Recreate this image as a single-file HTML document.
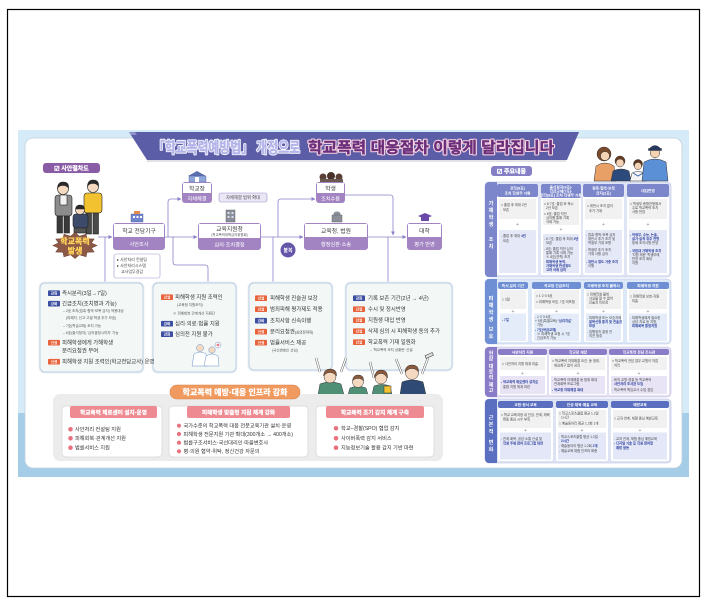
<!DOCTYPE html>
<html><head><meta charset="utf-8">
<style>
html,body{margin:0;padding:0;background:#fff;}
svg{display:block;}
text{font-family:"Liberation Sans","Noto Sans CJK KR",sans-serif;}
.c{stroke:#8b80c9;stroke-width:0.8;fill:none;}
.nt{font-size:5.8px;fill:#333;text-anchor:middle;}
.nb{font-size:5.2px;fill:#fff;text-anchor:middle;}
.bt{font-size:5.4px;fill:#333;}
.sm{font-size:3.5px;fill:#555;}
.tg{font-size:3.6px;fill:#fff;text-anchor:middle;font-weight:bold;}
.ci{font-size:5.2px;fill:#333;}
.hd{font-size:3.7px;fill:#fff;text-anchor:middle;font-weight:bold;}
.rt{font-size:3.3px;fill:#444;}
.bl{fill:#2c3f9e;font-weight:bold;}
.vt{font-size:5.2px;fill:#fff;text-anchor:middle;font-weight:bold;}
.pl{font-size:5px;fill:#888;text-anchor:middle;}
</style></head><body>
<svg width="708" height="609" viewBox="0 0 708 609" xmlns="http://www.w3.org/2000/svg">
<defs>
<marker id="ar" markerWidth="4" markerHeight="4" refX="3.6" refY="2" orient="auto" markerUnits="userSpaceOnUse">
<path d="M0,0 L4,2 L0,4 z" fill="#8b80c9"/>
</marker>
</defs>
<rect x="0" y="0" width="708" height="609" fill="#fff"/>
<rect x="7.5" y="9.5" width="692" height="587" fill="none" stroke="#000" stroke-width="1.2"/>

<!-- background -->
<rect x="18" y="130" width="671" height="347" fill="#d5ebf7"/>
<rect x="18" y="413" width="671" height="64" fill="#a6cde8"/>
<rect x="25" y="138" width="657" height="330" rx="8" fill="#fff" stroke="#c5d0dc" stroke-width="0.8"/>

<!-- title banner -->
<line x1="147" y1="161" x2="566" y2="161" stroke="#d8d8de" stroke-width="1.5"/>
<polygon points="129,132 579,132 567,160 147,160" fill="#5b5ea7"/>
<polygon points="129,132 135,132 137,135 131,135" fill="#8e92c8"/>
<text x="153" y="152.5" font-size="15" font-weight="bold" fill="#fff" stroke="#fff" stroke-width="2.2" stroke-linejoin="round" textLength="147" lengthAdjust="spacingAndGlyphs">「학교폭력예방법」 개정으로</text>
<text x="153" y="152.5" font-size="15" font-weight="bold" fill="#b4b4ea" stroke="#b4b4ea" stroke-width="0.5" textLength="147" lengthAdjust="spacingAndGlyphs">「학교폭력예방법」 개정으로</text>
<text x="308" y="152.5" font-size="15" font-weight="bold" fill="#f7d3e3" stroke="#f7d3e3" stroke-width="2.6" stroke-linejoin="round" textLength="246" lengthAdjust="spacingAndGlyphs">학교폭력 대응절차 이렇게 달라집니다</text>
<text x="308" y="152.5" font-size="15" font-weight="bold" fill="#6a2f7a" stroke="#6a2f7a" stroke-width="0.4" textLength="246" lengthAdjust="spacingAndGlyphs">학교폭력 대응절차 이렇게 달라집니다</text>

<!-- pills -->
<rect x="43" y="163" width="57" height="10" rx="3" fill="#8a5ca6"/>
<text x="71.5" y="170.3" font-size="6" fill="#fff" stroke="#fff" stroke-width="0.2" text-anchor="middle" font-weight="bold">☑ 사안절차도</text>
<rect x="491" y="166" width="41" height="10" rx="3" fill="#8580c6"/>
<text x="511.5" y="173.3" font-size="6" fill="#fff" stroke="#fff" stroke-width="0.2" text-anchor="middle" font-weight="bold">☑ 주요내용</text>

<!-- bullying illustration -->
<g stroke="#222" stroke-width="0.6">
<rect x="55" y="195" width="17" height="21" rx="3" fill="#8c8c8c"/>
<rect x="60" y="195" width="7" height="10" fill="#f2f2f2"/>
<rect x="57" y="216" width="5.5" height="17" fill="#3a3a3a"/>
<rect x="64" y="216" width="5.5" height="17" fill="#3a3a3a"/>
<circle cx="63" cy="189" r="5.5" fill="#f4d9c0"/>
<path d="M57.5,188 Q58,182 63,182 Q69,182 68.5,188 Q66,185 63,185.5 Q60,185 57.5,188z" fill="#2a2a2a"/>
<rect x="84" y="193" width="18" height="20" rx="3" fill="#f2c230"/>
<rect x="86" y="213" width="5.5" height="21" fill="#4a4a4a"/>
<rect x="93" y="213" width="5.5" height="21" fill="#4a4a4a"/>
<circle cx="93" cy="187" r="5.5" fill="#f4d9c0"/>
<path d="M87.5,186 Q88,180 93,180 Q99,180 98.5,186 Q96,183 93,183.5 Q90,183 87.5,186z" fill="#2a2a2a"/>
<rect x="73" y="214" width="15" height="14" rx="3" fill="#3d4a6a"/>
<rect x="74" y="228" width="12" height="5" fill="#555"/>
<circle cx="80" cy="210" r="4.5" fill="#f4d9c0"/>
<path d="M75.5,209 Q76,205 80,205 Q84.5,205 84.5,209z" fill="#2a2a2a"/>
</g>

<!-- starburst -->
<polygon points="97,245.5 91.4,248 94.1,252 87,252.2 86,256.8 79.4,254.7 75,258.5 70.6,254.7 64,256.8 63,252.2 55.9,252 58.6,248 53,245.5 58.6,243 55.9,239 63,238.8 64,234.2 70.6,236.3 75,232.5 79.4,236.3 86,234.2 87,238.8 94.1,239 91.4,243" fill="#8d5a48" stroke="#6e3f30" stroke-width="0.6"/>
<text x="75" y="244" font-size="8" font-weight="bold" fill="#ffd35a" stroke="#ffd35a" stroke-width="0.35" text-anchor="middle">학교폭력</text>
<text x="75" y="253.5" font-size="8" font-weight="bold" fill="#ffd35a" stroke="#ffd35a" stroke-width="0.35" text-anchor="middle">발생</text>

<!-- connectors -->
<path class="c" d="M98,237 H112" marker-end="url(#ar)"/>
<path class="c" d="M105,237 V283"/>
<path class="c" d="M165,237 H197" marker-end="url(#ar)"/>
<path class="c" d="M168,237 V202 Q168,199 171,199 H181" marker-end="url(#ar)"/>
<path class="c" d="M173,237 V262 Q173,265 176,265 H205 Q208,265 208,268 V283"/>
<path class="c" d="M261,237 H303" marker-end="url(#ar)"/>
<path class="c" d="M278,237 V202 Q278,199 281,199 H315" marker-end="url(#ar)"/>
<path class="c" d="M273,237 V283"/>
<path class="c" d="M368,237 H406" marker-end="url(#ar)"/>
<path class="c" d="M345,195 H390 Q393,195 393,198 V235" marker-end="url(#ar)"/>
<path class="c" d="M388,237 V283"/>

<!-- icons -->
<rect x="131" y="214" width="12" height="8" fill="#6f86cc" stroke="#4a5a9a" stroke-width="0.4"/>
<rect x="134" y="211" width="6" height="3" fill="#e58a4a"/>
<rect x="133" y="216" width="2" height="2" fill="#fff"/><rect x="136.5" y="216" width="2" height="2" fill="#fff"/><rect x="140" y="216" width="2" height="2" fill="#fff"/>
<polygon points="188,176 197,171 206,176" fill="#5b6fae"/>
<rect x="189" y="176" width="17" height="6" fill="#8ea6d8" stroke="#4a5a9a" stroke-width="0.4"/>
<rect x="195" y="177" width="4" height="5" fill="#fff"/>
<rect x="226" y="210" width="9" height="12" fill="#8a8f99" stroke="#555" stroke-width="0.4"/>
<rect x="227.5" y="212" width="2" height="2" fill="#dde"/><rect x="231.5" y="212" width="2" height="2" fill="#dde"/><rect x="227.5" y="216" width="2" height="2" fill="#dde"/><rect x="231.5" y="216" width="2" height="2" fill="#dde"/>
<circle cx="323" cy="177" r="3.5" fill="#5a4037"/><circle cx="331" cy="176" r="4" fill="#4a332a"/><circle cx="339" cy="177" r="3.5" fill="#5a4037"/>
<rect x="320" y="179" width="23" height="3" fill="#6b5a52"/>
<ellipse cx="337" cy="214" rx="3.5" ry="2.5" fill="#8a8f99"/>
<rect x="332" y="215" width="10" height="7" fill="#8a8f99" stroke="#555" stroke-width="0.4"/>
<polygon points="418,216 425,213 432,216 425,219" fill="#6a4aa8"/>
<rect x="421" y="217" width="8" height="4" fill="#6a4aa8"/>

<!-- nodes -->
<rect x="113" y="223" width="52" height="27" rx="3" fill="#a384c2"/>
<rect x="114" y="224" width="50" height="13" fill="#fff"/>
<text class="nt" x="139" y="233">학교 전담기구</text>
<text class="nb" x="139" y="246">사안조사</text>

<rect x="182" y="182" width="30" height="21" rx="3" fill="#a384c2"/>
<rect x="183" y="183" width="28" height="10" fill="#fff"/>
<text class="nt" x="197" y="190.3">학교장</text>
<text class="nb" x="197" y="200.5">자체해결</text>

<rect x="219" y="193" width="48" height="9" rx="2" fill="#ebe7f6" stroke="#9d90cc" stroke-width="0.6"/>
<text x="243" y="199.2" font-size="4.3" fill="#444" text-anchor="middle">자체해결 범위 확대</text>

<rect x="198" y="223" width="63" height="27" rx="3" fill="#a384c2"/>
<rect x="199" y="224" width="61" height="14" fill="#fff"/>
<text class="nt" x="229.5" y="231">교육지원청</text>
<text x="229.5" y="236" font-size="3.4" fill="#555" text-anchor="middle">(학교폭력대책심의위원회)</text>
<text class="nb" x="229.5" y="246.5">심의·조치결정</text>

<rect x="316" y="182" width="29" height="21" rx="3" fill="#a384c2"/>
<rect x="317" y="183" width="27" height="10" fill="#fff"/>
<text class="nt" x="330.5" y="190.3">학생</text>
<text class="nb" x="330.5" y="200.5">조치수용</text>

<rect x="304" y="223" width="64" height="27" rx="3" fill="#a384c2"/>
<rect x="305" y="224" width="62" height="13" fill="#fff"/>
<text class="nt" x="336" y="233">교육청, 법원</text>
<text class="nb" x="336" y="246">행정심판·소송</text>

<rect x="407" y="223" width="35" height="27" rx="3" fill="#a384c2"/>
<rect x="408" y="224" width="33" height="13" fill="#fff"/>
<text class="nt" x="424.5" y="233">대학</text>
<text class="nb" x="424.5" y="246">평가 반영</text>

<circle cx="288" cy="250" r="7.5" fill="#6656a9"/>
<text x="288" y="252" font-size="5" fill="#fff" text-anchor="middle" font-weight="bold">불복</text>

<rect x="114" y="254" width="46" height="24" rx="2" fill="#fff" stroke="#a795cf" stroke-width="0.6"/>
<text x="117" y="261" font-size="4" fill="#444">▸ 사안처리 컨설팅</text>
<text x="117" y="267" font-size="4" fill="#444">▸ 사안처리시스템</text>
<text x="121" y="273" font-size="4" fill="#444">교사업무경감</text>

<!-- detail boxes -->
<rect x="38.5" y="281.5" width="106" height="92" rx="6" fill="#eceff2"/>
<rect x="40" y="283" width="103" height="89" rx="5" fill="#f3f8f7" stroke="#b9cde6" stroke-width="0.9"/>
<rect x="151.5" y="281.5" width="86" height="92" rx="6" fill="#eceff2"/>
<rect x="153" y="283" width="83" height="89" rx="5" fill="#f3f8f7" stroke="#b9cde6" stroke-width="0.9"/>
<rect x="247.5" y="281.5" width="86" height="90" rx="6" fill="#eceff2"/>
<rect x="249" y="283" width="83" height="87" rx="5" fill="#f3f8f7" stroke="#b9cde6" stroke-width="0.9"/>
<rect x="344.5" y="281.5" width="109" height="90" rx="6" fill="#eceff2"/>
<rect x="346" y="283" width="106" height="87" rx="5" fill="#f3f8f7" stroke="#b9cde6" stroke-width="0.9"/>

<!-- box1 -->
<rect x="48" y="290.4" width="12" height="5.6" rx="0.8" fill="#3d4fa0"/><text class="tg" x="54" y="294.5">강화</text>
<text class="bt" x="62" y="295">즉시분리(3일→7일)</text>
<rect x="48" y="300.9" width="12" height="5.6" rx="0.8" fill="#3d4fa0"/><text class="tg" x="54" y="305">강화</text>
<text class="bt" x="62" y="305.5">긴급조치(조치병과 가능)</text>
<text class="sm" x="63" y="312">– 2호 조치(접촉·협박·보복 금지) 적용대상</text>
<text class="sm" x="66" y="319">(피해자, 신고·고발 학생 추가 보호)</text>
<text class="sm" x="63" y="327">– 7호(학급교체) 조치 가능</text>
<text class="sm" x="63" y="334">– 6호(출석정지) '심의결정시까지' 가능</text>
<rect x="48" y="339.9" width="12" height="5.6" rx="0.8" fill="#e8643c"/><text class="tg" x="54" y="344">신설</text>
<text class="bt" x="62" y="344.5">피해학생에게 가해학생</text>
<text class="bt" x="62" y="352.5">분리요청권 부여</text>
<rect x="48" y="358.9" width="12" height="5.6" rx="0.8" fill="#e8643c"/><text class="tg" x="54" y="363">신설</text>
<text class="bt" x="62" y="363.5" font-size="5">피해학생 지원 조력인(학교전담교사) 운영</text>

<!-- box2 -->
<rect x="161" y="294.4" width="12" height="5.6" rx="0.8" fill="#e8643c"/><text class="tg" x="167" y="298.5">신설</text>
<text class="bt" x="175" y="299">피해학생 지원 조력인</text>
<text class="sm" x="177" y="306">(교육청 지원조직)</text>
<text class="sm" x="173" y="314.5">※ 피해회복·관계개선 지원단</text>
<rect x="161" y="320.9" width="12" height="5.6" rx="0.8" fill="#3d4fa0"/><text class="tg" x="167" y="325">강화</text>
<text class="bt" x="175" y="325.5">심리·의료·법률 지원</text>
<rect x="161" y="331.4" width="12" height="5.6" rx="0.8" fill="#3d4fa0"/><text class="tg" x="167" y="335.5">강화</text>
<text class="bt" x="175" y="336">심의전 지원 불가</text>
<!-- doctors -->
<g stroke="#6a8fc8" stroke-width="0.5">
<path d="M192,366 L194,354 Q200,350 206,354 L208,366 Z" fill="#fff"/>
<circle cx="200" cy="348" r="3.5" fill="#f4d9c0"/>
<path d="M204,366 L206,356 Q212,352 218,356 L219,366 Z" fill="#fff"/>
<circle cx="212" cy="350" r="3.2" fill="#f4d9c0"/>
<circle cx="218" cy="345" r="3" fill="#fff"/>
</g>
<path d="M216.5,345 H219.5 M218,343.5 V346.5" stroke="#e5505a" stroke-width="0.9"/>

<!-- box3 -->
<rect x="255" y="295.4" width="12" height="5.6" rx="0.8" fill="#e8643c"/><text class="tg" x="261" y="299.5">신설</text>
<text class="bt" x="270" y="300">피해학생 진술권 보장</text>
<rect x="255" y="306.4" width="12" height="5.6" rx="0.8" fill="#e8643c"/><text class="tg" x="261" y="310.5">신설</text>
<text class="bt" x="270" y="311">범죄피해 평가제도 적용</text>
<rect x="255" y="317.9" width="12" height="5.6" rx="0.8" fill="#3d4fa0"/><text class="tg" x="261" y="322">강화</text>
<text class="bt" x="270" y="322.5">조치사항 신속이행</text>
<rect x="255" y="328.9" width="12" height="5.6" rx="0.8" fill="#e8643c"/><text class="tg" x="261" y="333">신설</text>
<text class="bt" x="270" y="333.5">분리요청권<tspan font-size="3.5">(심의전까지)</tspan></text>
<rect x="255" y="339.9" width="12" height="5.6" rx="0.8" fill="#e8643c"/><text class="tg" x="261" y="344">신설</text>
<text class="bt" x="270" y="344.5">법률서비스 제공</text>
<text class="sm" x="272" y="351.5">(국선변호인 선임)</text>

<!-- box4 -->
<rect x="353" y="295.4" width="12" height="5.6" rx="0.8" fill="#3d4fa0"/><text class="tg" x="359" y="299.5">강화</text>
<text class="bt" x="368" y="300">기록 보존 기간(2년 → 4년)</text>
<rect x="353" y="306.4" width="12" height="5.6" rx="0.8" fill="#e8643c"/><text class="tg" x="359" y="310.5">신설</text>
<text class="bt" x="368" y="311">수시 및 정시반영</text>
<rect x="353" y="317.4" width="12" height="5.6" rx="0.8" fill="#e8643c"/><text class="tg" x="359" y="321.5">신설</text>
<text class="bt" x="368" y="322">지원생 대입 반영</text>
<rect x="353" y="328.4" width="12" height="5.6" rx="0.8" fill="#e8643c"/><text class="tg" x="359" y="332.5">신설</text>
<text class="bt" x="368" y="333">삭제 심의 시 피해학생 동의 추가</text>
<rect x="353" y="339.4" width="12" height="5.6" rx="0.8" fill="#e8643c"/><text class="tg" x="359" y="343.5">신설</text>
<text class="bt" x="368" y="344">학교폭력 기재 일원화</text>
<text class="sm" x="370" y="351">– '학교폭력 조치 상황란' 신설</text>

<!-- students illustration -->
<g stroke="#333" stroke-width="0.5">
<path d="M320,372 L316,358" stroke="#333" stroke-width="2.2"/>
<path d="M320,372 L316,358" stroke="#fff" stroke-width="1.4"/>
<path d="M341,372 L346,358" stroke="#333" stroke-width="2.2"/>
<path d="M341,372 L346,358" stroke="#fff" stroke-width="1.4"/>
<path d="M318,395 L320,384 Q330,380 341,384 L344,395 Z" fill="#4f8f76"/>
<circle cx="330" cy="377" r="6" fill="#f4d9c0"/>
<path d="M323.5,376 Q324,369 330,369 Q337,369 336.5,376 Q333,372 330,372.5 Q327,372 323.5,376z" fill="#8b5a3c"/>
<path d="M348,395 L350,388 Q358,385 366,388 L368,395 Z" fill="#4f8f76"/>
<circle cx="358" cy="382" r="5.5" fill="#f4d9c0"/>
<path d="M352.5,381 Q353,375 358,375 Q364,375 363.5,381 Q361,378 358,378.5 Q355,378 352.5,381z" fill="#8b5a3c"/>
<path d="M374,378 L370,362" stroke="#333" stroke-width="2.2"/>
<path d="M374,378 L370,362" stroke="#fff" stroke-width="1.4"/>
<path d="M372,395 L374,386 Q382,383 390,386 L392,395 Z" fill="#4f8f76"/>
<rect x="384" y="386" width="7" height="7" fill="#f2c230"/>
<circle cx="381" cy="378" r="6" fill="#f4d9c0"/>
<path d="M374.5,378 Q375,370 381,370 Q388,370 387.5,378 Q384,373 381,373.5 Q378,373 374.5,378z" fill="#8b5a3c"/>
<path d="M402,374 L396,359" stroke="#333" stroke-width="2.2"/>
<path d="M402,374 L396,359" stroke="#fff" stroke-width="1.4"/>
<path d="M422,374 L428,358" stroke="#333" stroke-width="2.2"/>
<path d="M422,374 L428,358" stroke="#fff" stroke-width="1.4"/>
<rect x="425" y="354" width="8" height="3" fill="#ddd" transform="rotate(-25 429 355)"/>
<path d="M400,395 L402,382 Q412,378 423,382 L426,395 Z" fill="#2f4a74"/>
<circle cx="412" cy="373" r="6.5" fill="#f4d9c0"/>
<path d="M405,372 Q405.5,365 412,365 Q419,365 418.5,372 Q415,368 412,368.5 Q409,368 405,372z" fill="#8b5a3c"/>
</g>

<!-- bottom panel -->
<rect x="53" y="394" width="390" height="67" rx="7" fill="#ececec"/>
<rect x="170" y="385" width="130" height="14" rx="7" fill="#f19a5f" stroke="#d9824a" stroke-width="0.6"/>
<text x="235" y="395" font-size="8" font-weight="bold" fill="#fff" stroke="#fff" stroke-width="0.3" text-anchor="middle">학교폭력 예방·대응 인프라 강화</text>

<rect x="62" y="406" width="100" height="51" rx="4" fill="#fff" stroke="#d6d6d6" stroke-width="0.7"/>
<rect x="70" y="406" width="87" height="12" rx="2" fill="#ee8a92"/>
<text x="113.5" y="414.5" font-size="5.6" font-weight="bold" fill="#fff" stroke="#fff" stroke-width="0.2" text-anchor="middle">학교폭력 제로센터 설치·운영</text>
<circle cx="70.5" cy="429.3" r="2.3" fill="#e8737f"/><text class="ci" x="75" y="431.2">사안처리 컨설팅 지원</text>
<circle cx="70.5" cy="438.3" r="2.3" fill="#e8737f"/><text class="ci" x="75" y="440.2">피해회복·관계개선 지원</text>
<circle cx="70.5" cy="447.7" r="2.3" fill="#e8737f"/><text class="ci" x="75" y="449.6">법률서비스 지원</text>

<rect x="169" y="406" width="139" height="51" rx="4" fill="#fff" stroke="#d6d6d6" stroke-width="0.7"/>
<rect x="187" y="406" width="103" height="12" rx="2" fill="#ee8a92"/>
<text x="238.5" y="414.5" font-size="5.6" font-weight="bold" fill="#fff" stroke="#fff" stroke-width="0.2" text-anchor="middle">피해학생 맞춤형 지원 체계 강화</text>
<circle cx="179" cy="425.7" r="2.1" fill="#e8737f"/><text class="ci" x="183.5" y="427.5" font-size="4.8">국가수준의 학교폭력 대응 전문교육기관 설치·운영</text>
<circle cx="179" cy="434" r="2.1" fill="#e8737f"/><text class="ci" x="183.5" y="435.8" font-size="4.8">피해학생 전문지원 기관 확대(300개소 → 400개소)</text>
<circle cx="179" cy="442.7" r="2.1" fill="#e8737f"/><text class="ci" x="183.5" y="444.5" font-size="4.8">법률구조서비스·국선대리인·마을변호사</text>
<circle cx="179" cy="451.3" r="2.1" fill="#e8737f"/><text class="ci" x="183.5" y="453.1" font-size="4.8">병·의원 협약·위탁, 정신건강 자문의</text>

<rect x="316" y="406" width="118" height="51" rx="4" fill="#fff" stroke="#d6d6d6" stroke-width="0.7"/>
<rect x="326" y="406" width="98" height="12" rx="2" fill="#ee8a92"/>
<text x="375" y="414.5" font-size="5.6" font-weight="bold" fill="#fff" stroke="#fff" stroke-width="0.2" text-anchor="middle">학교폭력 조기 감지 체계 구축</text>
<circle cx="336" cy="428.3" r="2.3" fill="#e8737f"/><text class="ci" x="341" y="430.2">학교–경찰(SPO) 협업 감지</text>
<circle cx="336" cy="438.3" r="2.3" fill="#e8737f"/><text class="ci" x="341" y="440.2">사이버폭력 감지 서비스</text>
<circle cx="336" cy="447.7" r="2.3" fill="#e8737f"/><text class="ci" x="341" y="449.6">지능정보기술 활용 감지 기반 마련</text>

<!-- family illustration -->
<g stroke="#333" stroke-width="0.5">
<circle cx="604" cy="154" r="7" fill="#7a4a2a"/>
<path d="M594,181 L596,166 Q605,160 614,166 L616,181 Z" fill="#e9a066"/>
<circle cx="605" cy="156" r="4.5" fill="#f4d3b5"/>
<circle cx="620" cy="161" r="5" fill="#6a3d22"/>
<path d="M611,181 L613,171 Q621,167 629,171 L631,181 Z" fill="#2d4a7c"/>
<circle cx="620" cy="163" r="4" fill="#f4d3b5"/>
<circle cx="638" cy="164" r="4.5" fill="#5a3520"/>
<path d="M630,181 L632,173 Q638,170 644,173 L646,181 Z" fill="#f4f4f4"/>
<path d="M633,173 L638,176 L643,173" fill="none" stroke="#3c6bb8" stroke-width="1"/>
<circle cx="638" cy="166" r="3.6" fill="#f4d3b5"/>
<path d="M642,181 L644,162 Q655,156 666,162 L668,181 Z" fill="#5b8fd6"/>
<circle cx="655" cy="153" r="4.8" fill="#f4d3b5"/>
<path d="M649,149 Q655,142 661,149 Z" fill="#233a6a"/>
<rect x="648.5" y="148.5" width="13" height="2" fill="#233a6a"/>
</g>

<!-- ============ right panel ============ -->
<!-- section 1 -->
<rect x="485" y="182" width="186" height="95" rx="4" fill="#e0e5f6" stroke="#b7c0e6" stroke-width="0.6"/>
<rect x="485" y="182" width="12" height="95" rx="4" fill="#7c87cb"/>
<rect x="491" y="182" width="6" height="95" fill="#7c87cb"/>
<text class="vt" x="491" y="205">가</text><text class="vt" x="491" y="212">해</text><text class="vt" x="491" y="219">학</text><text class="vt" x="491" y="226">생</text><text class="vt" x="491" y="241">조</text><text class="vt" x="491" y="248">치</text>

<rect x="497" y="184" width="41" height="91" rx="2" fill="#fff"/>
<rect x="497" y="184" width="41" height="13" rx="2" fill="#7c87cb"/>
<text class="hd" x="517.5" y="189.5">전학(8호)</text><text class="hd" x="517.5" y="194.5">조치 학생부 기록</text>
<rect x="499" y="199" width="37" height="20" fill="#f1f1f1"/>
<text class="rt" x="501" y="206">□ 졸업 후 최대 2년</text><text class="rt" x="503" y="211">보존</text>
<text class="pl" x="517.5" y="226">+</text>
<rect x="499" y="230" width="37" height="43" fill="#e5e8f7"/>
<text class="rt" x="501" y="237">- 졸업 후 최대 <tspan class="bl">4년</tspan></text><text class="rt" x="503" y="242">보존</text>

<rect x="541" y="184" width="40" height="91" rx="2" fill="#fff"/>
<rect x="541" y="184" width="40" height="14" rx="2" fill="#7c87cb"/>
<text class="hd" x="561" y="188.5" font-size="3.4">출석정지(6호)·</text><text class="hd" x="561" y="192.5" font-size="3.4">학급교체(7호)·</text><text class="hd" x="561" y="196.5" font-size="3.4">전학(8호) 조치 학생부 기록</text>
<rect x="543" y="199" width="36" height="26" fill="#f1f1f1"/>
<text class="rt" x="544" y="205">□ 6·7호: 졸업 후 즉시</text><text class="rt" x="546" y="209">2년 보존</text>
<text class="rt" x="544" y="215">□ 8호: 졸업 직전</text><text class="rt" x="546" y="219">심의를 통해 기록</text><text class="rt" x="546" y="223">삭제 가능</text>
<text class="pl" x="561" y="231">+</text>
<rect x="543" y="234" width="36" height="39" fill="#e5e8f7"/>
<text class="rt" x="544" y="240">- 6·7호: 졸업 후 최대 <tspan class="bl">4년</tspan></text><text class="rt" x="546" y="244">보존</text>
<text class="rt" x="544" y="250">- 8호: 졸업 직전 심의</text><text class="rt" x="546" y="254">통해 기록 삭제 가능</text>
<text class="rt" x="546" y="258">※ 8호(전학) 조치</text>
<text class="rt bl" x="546" y="263">피해학생 동의,</text><text class="rt bl" x="546" y="267">가해학생 반성정도</text><text class="rt bl" x="546" y="271">고려 삭제 심의</text>

<rect x="583" y="184" width="41" height="91" rx="2" fill="#fff"/>
<rect x="583" y="184" width="41" height="13" rx="2" fill="#7c87cb"/>
<text class="hd" x="603.5" y="189.5">접촉·협박·보복</text><text class="hd" x="603.5" y="194.5">금지(2호)</text>
<rect x="585" y="199" width="37" height="20" fill="#f1f1f1"/>
<text class="rt" x="587" y="207">□ 위반시 조치 없이</text><text class="rt" x="589" y="212">추가 기재</text>
<text class="pl" x="603.5" y="226">+</text>
<rect x="585" y="230" width="37" height="43" fill="#e5e8f7"/>
<text class="rt" x="586" y="236">- 접촉·협박·보복 금지</text><text class="rt" x="588" y="240">위반시 추가 조치 및</text><text class="rt" x="588" y="244">학생부 기재 조항</text>
<text class="rt" x="586" y="251">- 학생부 추가 조치</text><text class="rt" x="588" y="255">기재 사항 심의</text>
<text class="rt bl" x="586" y="263">- 위반시 별도 가중 조치</text><text class="rt" x="588" y="267">이행</text>

<rect x="627" y="184" width="42" height="91" rx="2" fill="#fff"/>
<rect x="627" y="184" width="42" height="13" rx="2" fill="#7c87cb"/>
<text class="hd" x="648" y="192">대입반영</text>
<rect x="629" y="199" width="38" height="20" fill="#f1f1f1"/>
<text class="rt" x="630" y="205">□ 학생부 종합전형에서</text><text class="rt" x="632" y="209">주로 학교폭력 조치</text><text class="rt" x="632" y="213">사항 반영</text>
<text class="pl" x="648" y="226">+</text>
<rect x="629" y="230" width="38" height="43" fill="#e5e8f7"/>
<text class="rt bl" x="630" y="236">- 학생부, 수능, 논술,</text><text class="rt bl" x="632" y="240">실기·실적 위주 전형</text><text class="rt" x="632" y="244">등에 조치사항 반영</text>
<text class="rt bl" x="630" y="252">- 국립대 가해학생 조치</text><text class="rt" x="632" y="256">'지원 제한' 학생부에</text><text class="rt" x="632" y="260">반영 조치 확대</text><text class="rt" x="632" y="264">지원</text>

<!-- section 2 -->
<rect x="485" y="279" width="186" height="65" rx="4" fill="#dce7f7" stroke="#b7c6e8" stroke-width="0.6"/>
<rect x="485" y="279" width="12" height="65" rx="4" fill="#6e8fd3"/>
<rect x="491" y="279" width="6" height="65" fill="#6e8fd3"/>
<text class="vt" x="491" y="300">피</text><text class="vt" x="491" y="307">해</text><text class="vt" x="491" y="314">학</text><text class="vt" x="491" y="321">생</text><text class="vt" x="491" y="331">보</text><text class="vt" x="491" y="338">호</text>

<rect x="498" y="282" width="30" height="60" rx="2" fill="#fff"/>
<rect x="498" y="282" width="30" height="7" rx="2" fill="#6e8fd3"/>
<text class="hd" x="513" y="287.2" font-size="3.5">즉시 분리 기간</text>
<rect x="500" y="290" width="26" height="19" fill="#f1f1f1"/>
<text class="rt" x="502" y="300.5">□ 3일</text>
<text class="pl" x="513" y="313">+</text>
<rect x="500" y="313.5" width="26" height="27.5" fill="#e4ecf9"/>
<text class="rt bl" x="502" y="321">- 7일</text>

<rect x="532" y="282" width="49" height="60" rx="2" fill="#fff"/>
<rect x="532" y="282" width="49" height="7" rx="2" fill="#6e8fd3"/>
<text class="hd" x="556.5" y="287.2" font-size="3.5">학교장 긴급조치</text>
<rect x="534" y="290" width="45" height="19" fill="#f1f1f1"/>
<text class="rt" x="536" y="297">□ 1·2·3·6호</text><text class="rt" x="536" y="303">□ 피해학생 보호, 7호 미포함</text>
<text class="pl" x="556.5" y="313">+</text>
<rect x="534" y="313.5" width="45" height="27.5" fill="#e4ecf9"/>
<text class="rt" x="535" y="318">- 1·2·3·6호,</text><text class="rt" x="535" y="322">+ 5호(특별교육)·<tspan class="bl">'심리치료'</tspan></text><text class="rt" x="537" y="326">가능</text>
<text class="rt bl" x="535" y="331">- 7호(학급교체)</text><text class="rt" x="537" y="335">※ 피해학생 요청 시 7호</text><text class="rt" x="537" y="339">긴급조치 가능</text>

<rect x="584" y="282" width="39" height="60" rx="2" fill="#fff"/>
<rect x="584" y="282" width="39" height="7" rx="2" fill="#6e8fd3"/>
<text class="hd" x="603.5" y="287.2" font-size="3.4">가해학생 조치 불복시</text>
<rect x="586" y="290" width="35" height="19" fill="#f1f1f1"/>
<text class="rt" x="587" y="295.5">□ 피해학생 불복</text><text class="rt" x="589" y="299.5">사실을 알 수 없어</text><text class="rt" x="589" y="303.5">진술권 미보장</text>
<text class="pl" x="603.5" y="313">+</text>
<rect x="586" y="313.5" width="35" height="27.5" fill="#e4ecf9"/>
<text class="rt" x="587" y="319">- 피해학생 또는 보호자에</text><text class="rt bl" x="589" y="323">불복신청 통지 및 진술권</text><text class="rt bl" x="589" y="327">보장</text>
<text class="rt" x="587" y="333">- 집행정지 결정 전</text><text class="rt" x="589" y="337">의견 청취</text>

<rect x="627" y="282" width="42" height="60" rx="2" fill="#fff"/>
<rect x="627" y="282" width="42" height="7" rx="2" fill="#6e8fd3"/>
<text class="hd" x="648" y="287.2" font-size="3.5">피해학생 지원</text>
<rect x="629" y="290" width="38" height="19" fill="#f1f1f1"/>
<text class="rt" x="630" y="297.5">□ 피해학생 보호·지원</text><text class="rt" x="632" y="302">미흡</text>
<text class="pl" x="648" y="313">+</text>
<rect x="629" y="313.5" width="38" height="27.5" fill="#e4ecf9"/>
<text class="rt" x="630" y="319">- 피해학생에게 필요한</text><text class="rt" x="632" y="323">상담·치료 등 지원,</text><text class="rt bl" x="632" y="327">피해회복 통합지원</text>

<!-- section 3 -->
<rect x="485" y="347" width="186" height="50" rx="4" fill="#e4e0f4" stroke="#c0b8e4" stroke-width="0.6"/>
<rect x="485" y="347" width="12" height="50" rx="4" fill="#8b7cc8"/>
<rect x="491" y="347" width="6" height="50" fill="#8b7cc8"/>
<text class="vt" x="491" y="355" font-size="4.6">현</text><text class="vt" x="491" y="360.5" font-size="4.6">장</text><text class="vt" x="491" y="368" font-size="4.6">대</text><text class="vt" x="491" y="373.5" font-size="4.6">응</text><text class="vt" x="491" y="379" font-size="4.6">력</text><text class="vt" x="491" y="386.5" font-size="4.6">제</text><text class="vt" x="491" y="392" font-size="4.6">고</text>

<rect x="498" y="349" width="49" height="46" rx="2" fill="#fff"/>
<rect x="498" y="349" width="49" height="6" rx="2" fill="#8b7cc8"/>
<text class="hd" x="522.5" y="353.7" font-size="3.5">사안처리 지원</text>
<rect x="500" y="357" width="45" height="13" fill="#f1f1f1"/>
<text class="rt" x="502" y="365">□ 사안처리 지원 체계 미흡</text>
<text class="pl" x="522.5" y="375">+</text>
<rect x="500" y="376" width="45" height="18" fill="#e8e4f6"/>
<text class="rt bl" x="501" y="383">- 학교폭력 제로센터 설치로</text><text class="rt" x="503" y="388">통합 지원 체계 마련</text>

<rect x="549" y="349" width="58" height="46" rx="2" fill="#fff"/>
<rect x="549" y="349" width="58" height="6" rx="2" fill="#8b7cc8"/>
<text class="hd" x="578" y="353.7" font-size="3.5">학교장 재량</text>
<rect x="551" y="357" width="54" height="13" fill="#f1f1f1"/>
<text class="rt" x="552" y="362">□ 학교폭력 자체해결 요건, 동 범위,</text><text class="rt" x="554" y="366.5">재심청구 없이 심의</text>
<text class="pl" x="578" y="375">+</text>
<rect x="551" y="376" width="54" height="18" fill="#e8e4f6"/>
<text class="rt" x="552" y="381">- 학교폭력 자체해결 동 범위 확대</text><text class="rt" x="554" y="385">관계회복 프로그램</text><text class="rt bl" x="552" y="391">- 학교장 자체해결 확대</text>

<rect x="609" y="349" width="60" height="46" rx="2" fill="#fff"/>
<rect x="609" y="349" width="60" height="6" rx="2" fill="#8b7cc8"/>
<text class="hd" x="639" y="353.7" font-size="3.5">학교폭력 전담 조사관</text>
<rect x="611" y="357" width="56" height="13" fill="#f1f1f1"/>
<text class="rt" x="612" y="362">□ 학교폭력 전담 업무 교원이 직접</text><text class="rt" x="614" y="366.5">처리</text>
<text class="pl" x="639" y="375">+</text>
<rect x="611" y="376" width="56" height="18" fill="#e8e4f6"/>
<text class="rt" x="612" y="381">- 퇴직 교원·경찰 등 학교폭력</text><text class="rt bl" x="614" y="385">사안처리 조사관 도입</text><text class="rt" x="612" y="391">- 학교폭력 책임교사 수업 경감</text>

<!-- section 4 -->
<rect x="485" y="399" width="186" height="64" rx="4" fill="#dee3f4" stroke="#b4bde4" stroke-width="0.6"/>
<rect x="485" y="399" width="12" height="64" rx="4" fill="#5b6fc0"/>
<rect x="491" y="399" width="6" height="64" fill="#5b6fc0"/>
<text class="vt" x="491" y="419">근</text><text class="vt" x="491" y="426">본</text><text class="vt" x="491" y="433">적</text><text class="vt" x="491" y="444">변</text><text class="vt" x="491" y="451">화</text>

<rect x="498" y="401" width="55" height="60" rx="2" fill="#fff"/>
<rect x="498" y="401" width="55" height="7" rx="2" fill="#5b6fc0"/>
<text class="hd" x="525.5" y="406.2" font-size="3.5">교원·정서 교육</text>
<rect x="500" y="410" width="51" height="18" fill="#f1f1f1"/>
<text class="rt" x="501" y="416">□ 학교 교육과정 내 인성, 관계, 체육</text><text class="rt" x="503" y="420.5">활동 중심 시수 부족</text>
<text class="pl" x="525.5" y="432">+</text>
<rect x="500" y="432.5" width="51" height="27" fill="#e3e7f7"/>
<text class="rt" x="501" y="440">- 관계 회복, 공감·소통 신설 및</text><text class="rt bl" x="503" y="444.5">학생 주체 참여 프로그램 마련</text>

<rect x="556" y="401" width="52" height="60" rx="2" fill="#fff"/>
<rect x="556" y="401" width="52" height="7" rx="2" fill="#5b6fc0"/>
<text class="hd" x="582" y="406.2" font-size="3.5">인성·체육·예술 교육</text>
<rect x="558" y="410" width="48" height="18" fill="#f1f1f1"/>
<text class="rt" x="559" y="414.5">□ 학교스포츠클럽 평균 1.2일</text><text class="rt" x="561" y="418.5">1시간</text><text class="rt" x="559" y="424.5">□ 예술동아리 평균 1.2회 1개</text>
<text class="pl" x="582" y="432">+</text>
<rect x="558" y="432.5" width="48" height="27" fill="#e3e7f7"/>
<text class="rt" x="559" y="438">- 학교스포츠클럽 평균 1.2일</text><text class="rt bl" x="561" y="442">2시간</text><text class="rt" x="559" y="447">- 예술동아리 평균 1.2회 <tspan class="bl">2개</tspan></text><text class="rt" x="559" y="452">- 예술교육 체험 인프라 확충</text>

<rect x="611" y="401" width="58" height="60" rx="2" fill="#fff"/>
<rect x="611" y="401" width="58" height="7" rx="2" fill="#5b6fc0"/>
<text class="hd" x="640" y="406.2" font-size="3.5">예방교육</text>
<rect x="613" y="410" width="54" height="18" fill="#f1f1f1"/>
<text class="rt" x="614" y="419.5">□ 교과 연계, 체험 중심 예방교육</text>
<text class="pl" x="640" y="432">+</text>
<rect x="613" y="432.5" width="54" height="27" fill="#e3e7f7"/>
<text class="rt" x="614" y="440">- 교과 연계, 체험 중심 예방교육</text><text class="rt bl" x="614" y="444.5">- 디지털 기술 등 학생 참여형</text><text class="rt bl" x="616" y="449">예방 활동</text>
</svg>
</body></html>
